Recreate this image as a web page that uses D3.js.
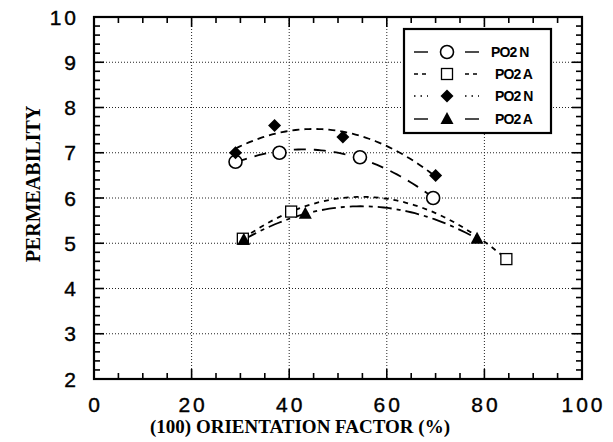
<!DOCTYPE html>
<html>
<head>
<meta charset="utf-8">
<script src="https://cdn.jsdelivr.net/npm/d3@7/dist/d3.min.js"></script>
<style>
  html, body { margin: 0; padding: 0; background: #fff; }
  svg { display: block; }
</style>
</head>
<body>
<svg id="chart" width="613" height="442"></svg>
<script>
// Permeability vs (100) orientation factor, four measured series
const circleX   = [29, 38, 54.5, 69.5];
const circleY   = [6.8, 7.0, 6.9, 6.0];
const squareX   = [30.5, 40.4, 84.5];
const squareY   = [5.1, 5.7, 4.65];
const diamondX  = [29, 37, 51, 70];
const diamondY  = [7.0, 7.6, 7.35, 6.5];
const triangleX = [30.7, 43.3, 78.5];
const triangleY = [5.08, 5.65, 5.1];

const seriesNames = ["PO2 N", "PO2 A", "PO2 N", "PO2 A"];
const xTicks = [0, 20, 40, 60, 80, 100];
const yTicks = [2, 3, 4, 5, 6, 7, 8, 9, 10];

const svg = d3.select("#chart");
const plotL = 94, plotR = 582, plotT = 17, plotB = 379;

const x = d3.scaleLinear().domain([0, 100]).range([plotL, plotR]);
const y = d3.scaleLinear().domain([2, 10]).range([plotB, plotT]);

// dotted grid at the major ticks
const grid = svg.append("g");
grid.selectAll("line.gx").data(xTicks.slice(1, -1)).join("line")
  .attr("x1", d => x(d)).attr("x2", d => x(d))
  .attr("y1", plotT).attr("y2", plotB)
  .attr("stroke", "#222").attr("stroke-width", 1).attr("stroke-dasharray", "1,2");
grid.selectAll("line.gy").data(yTicks.slice(1, -1)).join("line")
  .attr("y1", d => y(d)).attr("y2", d => y(d))
  .attr("x1", plotL).attr("x2", plotR)
  .attr("stroke", "#222").attr("stroke-width", 1).attr("stroke-dasharray", "1,2");

// inward ticks on all four sides
const xMinor = d3.range(0, 101, 5);
const yMinor = d3.range(2, 10.001, 0.2);
const tk = svg.append("g").attr("stroke", "#000").attr("stroke-width", 1.6);
function isMajorX(v) { return Math.abs(v % 20) < 1e-6; }
function isMajorY(v) { return Math.abs(v - Math.round(v)) < 1e-6; }
xMinor.forEach(v => {
  const len = isMajorX(v) ? 10 : 6;
  tk.append("line").attr("x1", x(v)).attr("x2", x(v)).attr("y1", plotB).attr("y2", plotB - len);
  tk.append("line").attr("x1", x(v)).attr("x2", x(v)).attr("y1", plotT).attr("y2", plotT + len);
});
yMinor.forEach(v => {
  const len = isMajorY(v) ? 10 : 6;
  tk.append("line").attr("y1", y(v)).attr("y2", y(v)).attr("x1", plotL).attr("x2", plotL + len);
  tk.append("line").attr("y1", y(v)).attr("y2", y(v)).attr("x1", plotR).attr("x2", plotR - len);
});

// frame
svg.append("rect").attr("x", plotL).attr("y", plotT)
  .attr("width", plotR - plotL).attr("height", plotB - plotT)
  .attr("fill", "none").attr("stroke", "#000").attr("stroke-width", 2.2);

// tick labels
svg.append("g").selectAll("text").data(xTicks).join("text")
  .attr("x", d => x(d) + 1.5).attr("y", 412)
  .attr("text-anchor", "middle")
  .attr("font-family", "Liberation Sans, Arial, sans-serif")
  .attr("font-size", 21).attr("letter-spacing", 3)
  .attr("stroke", "#000").attr("stroke-width", 0.4)
  .text(d => d);
svg.append("g").selectAll("text").data(yTicks).join("text")
  .attr("x", 79).attr("y", d => y(d) + 7.5)
  .attr("text-anchor", "end")
  .attr("font-family", "Liberation Sans, Arial, sans-serif")
  .attr("font-size", 21).attr("letter-spacing", 3)
  .attr("stroke", "#000").attr("stroke-width", 0.4)
  .text(d => d);

// axis titles
svg.append("text").attr("x", 300).attr("y", 433)
  .attr("text-anchor", "middle")
  .attr("font-family", "Liberation Serif, Times New Roman, serif")
  .attr("font-weight", "bold").attr("font-size", 19)
  .text("(100) ORIENTATION FACTOR (%)");
svg.append("text")
  .attr("transform", "translate(40,184) rotate(-90)")
  .attr("text-anchor", "middle")
  .attr("font-family", "Liberation Serif, Times New Roman, serif")
  .attr("font-weight", "bold").attr("font-size", 20)
  .text("PERMEABILITY");

// quadratic least-squares trend through each series
function quadFit(xs, ys) {
  let s = [0, 0, 0, 0, 0], t = [0, 0, 0];
  xs.forEach((xv, i) => {
    let p = 1;
    for (let k = 0; k < 5; k++) { s[k] += p; p *= xv; }
    t[0] += ys[i]; t[1] += ys[i] * xv; t[2] += ys[i] * xv * xv;
  });
  const M = [[s[0], s[1], s[2], t[0]], [s[1], s[2], s[3], t[1]], [s[2], s[3], s[4], t[2]]];
  for (let i = 0; i < 3; i++) {
    for (let j = i + 1; j < 3; j++) {
      const f = M[j][i] / M[i][i];
      for (let k = i; k < 4; k++) M[j][k] -= f * M[i][k];
    }
  }
  const c = [0, 0, 0];
  for (let i = 2; i >= 0; i--) {
    let v = M[i][3];
    for (let k = i + 1; k < 3; k++) v -= M[i][k] * c[k];
    c[i] = v / M[i][i];
  }
  return xv => c[0] + c[1] * xv + c[2] * xv * xv;
}

const series = [
  { xs: circleX,   ys: circleY,   dash: "12,8",        marker: "circle" },
  { xs: squareX,   ys: squareY,   dash: "5,5",         marker: "square" },
  { xs: diamondX,  ys: diamondY,  dash: "7,5",         marker: "diamond" },
  { xs: triangleX, ys: triangleY, dash: "14,5,4,5",    marker: "triangle" }
];

const line = d3.line().x(d => x(d[0])).y(d => y(d[1]));
series.forEach(s => {
  const f = quadFit(s.xs, s.ys);
  const x0 = d3.min(s.xs), x1 = d3.max(s.xs);
  const pts = d3.range(0, 61).map(i => { const xv = x0 + (x1 - x0) * i / 60; return [xv, f(xv)]; });
  svg.append("path").datum(pts).attr("d", line)
    .attr("fill", "none").attr("stroke", "#000").attr("stroke-width", 1.8)
    .attr("stroke-dasharray", s.dash);
});

function drawMarker(g, type, cx, cy) {
  if (type === "circle") {
    g.append("circle").attr("cx", cx).attr("cy", cy).attr("r", 6.5)
      .attr("fill", "#fff").attr("stroke", "#000").attr("stroke-width", 1.6);
  } else if (type === "square") {
    g.append("rect").attr("x", cx - 5.5).attr("y", cy - 5.5).attr("width", 11).attr("height", 11)
      .attr("fill", "#fff").attr("stroke", "#000").attr("stroke-width", 1.3);
  } else if (type === "diamond") {
    g.append("path").attr("d", `M${cx},${cy - 6.5}L${cx + 6.5},${cy}L${cx},${cy + 6.5}L${cx - 6.5},${cy}Z`)
      .attr("fill", "#000");
  } else {
    g.append("path").attr("d", `M${cx},${cy - 7}L${cx + 6.5},${cy + 5}L${cx - 6.5},${cy + 5}Z`)
      .attr("fill", "#000");
  }
}

const mk = svg.append("g");
series.forEach(s => {
  s.xs.forEach((xv, i) => drawMarker(mk, s.marker, x(xv), y(s.ys[i])));
});

// legend
const lg = svg.append("g");
lg.append("rect").attr("x", 404).attr("y", 29).attr("width", 147).attr("height", 104)
  .attr("fill", "#fff").attr("stroke", "#000").attr("stroke-width", 2.2);
const legendDash = [null, "4,4", "1.5,5", null];
const rowY = [52, 74, 96, 119];
series.forEach((s, i) => {
  const ry = rowY[i];
  [[414, 428], [465, 479]].forEach(([a, b]) => {
    lg.append("line").attr("x1", a).attr("x2", b).attr("y1", ry).attr("y2", ry)
      .attr("stroke", "#000").attr("stroke-width", 1.4)
      .attr("stroke-dasharray", legendDash[i]);
  });
  drawMarker(lg, s.marker, 447, ry);
  lg.append("text").attr("x", i === 0 ? 491 : 495).attr("y", ry + 5)
    .attr("font-family", "Liberation Sans, Arial, sans-serif")
    .attr("font-weight", "bold").attr("font-size", 14).attr("letter-spacing", -0.9)
    .text(seriesNames[i]);
});
</script>
</body>
</html>
